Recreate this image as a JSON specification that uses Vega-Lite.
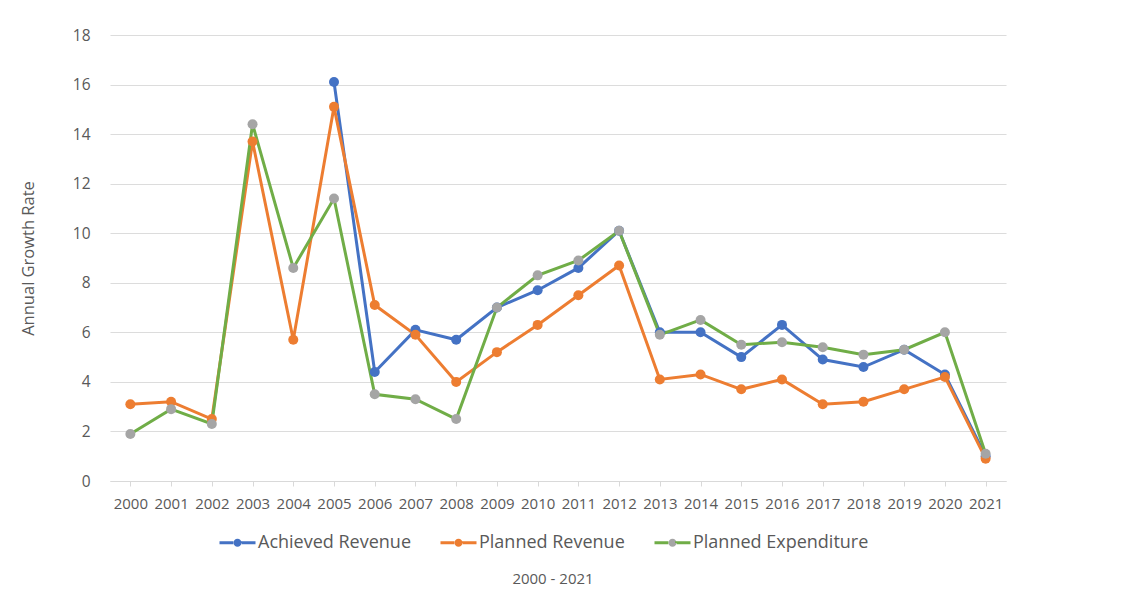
{
  "$schema": "https://vega.github.io/schema/vega-lite/v6.json",
  "width": 896,
  "height": 446,
  "autosize": {"type": "none"},
  "padding": {"left": 110, "top": 35, "right": 122, "bottom": 118},
  "background": "white",
  "config": {"view": {"stroke": null}, "font": "Open Sans"},
  "title": {"text": "2000 - 2021", "orient": "bottom", "anchor": "middle", "fontSize": 15, "fontWeight": "normal", "color": "#595959", "offset": 19, "dx": -5},
  "data": {"values": [
    {"year": "2005", "series": "Achieved Revenue", "value": 16.1},
    {"year": "2006", "series": "Achieved Revenue", "value": 4.4},
    {"year": "2007", "series": "Achieved Revenue", "value": 6.1},
    {"year": "2008", "series": "Achieved Revenue", "value": 5.7},
    {"year": "2009", "series": "Achieved Revenue", "value": 7.0},
    {"year": "2010", "series": "Achieved Revenue", "value": 7.7},
    {"year": "2011", "series": "Achieved Revenue", "value": 8.6},
    {"year": "2012", "series": "Achieved Revenue", "value": 10.1},
    {"year": "2013", "series": "Achieved Revenue", "value": 6.0},
    {"year": "2014", "series": "Achieved Revenue", "value": 6.0},
    {"year": "2015", "series": "Achieved Revenue", "value": 5.0},
    {"year": "2016", "series": "Achieved Revenue", "value": 6.3},
    {"year": "2017", "series": "Achieved Revenue", "value": 4.9},
    {"year": "2018", "series": "Achieved Revenue", "value": 4.6},
    {"year": "2019", "series": "Achieved Revenue", "value": 5.3},
    {"year": "2020", "series": "Achieved Revenue", "value": 4.3},
    {"year": "2021", "series": "Achieved Revenue", "value": 1.0},
    {"year": "2000", "series": "Planned Revenue", "value": 3.1},
    {"year": "2001", "series": "Planned Revenue", "value": 3.2},
    {"year": "2002", "series": "Planned Revenue", "value": 2.5},
    {"year": "2003", "series": "Planned Revenue", "value": 13.7},
    {"year": "2004", "series": "Planned Revenue", "value": 5.7},
    {"year": "2005", "series": "Planned Revenue", "value": 15.1},
    {"year": "2006", "series": "Planned Revenue", "value": 7.1},
    {"year": "2007", "series": "Planned Revenue", "value": 5.9},
    {"year": "2008", "series": "Planned Revenue", "value": 4.0},
    {"year": "2009", "series": "Planned Revenue", "value": 5.2},
    {"year": "2010", "series": "Planned Revenue", "value": 6.3},
    {"year": "2011", "series": "Planned Revenue", "value": 7.5},
    {"year": "2012", "series": "Planned Revenue", "value": 8.7},
    {"year": "2013", "series": "Planned Revenue", "value": 4.1},
    {"year": "2014", "series": "Planned Revenue", "value": 4.3},
    {"year": "2015", "series": "Planned Revenue", "value": 3.7},
    {"year": "2016", "series": "Planned Revenue", "value": 4.1},
    {"year": "2017", "series": "Planned Revenue", "value": 3.1},
    {"year": "2018", "series": "Planned Revenue", "value": 3.2},
    {"year": "2019", "series": "Planned Revenue", "value": 3.7},
    {"year": "2020", "series": "Planned Revenue", "value": 4.2},
    {"year": "2021", "series": "Planned Revenue", "value": 0.9},
    {"year": "2000", "series": "Planned Expenditure", "value": 1.9},
    {"year": "2001", "series": "Planned Expenditure", "value": 2.9},
    {"year": "2002", "series": "Planned Expenditure", "value": 2.3},
    {"year": "2003", "series": "Planned Expenditure", "value": 14.4},
    {"year": "2004", "series": "Planned Expenditure", "value": 8.6},
    {"year": "2005", "series": "Planned Expenditure", "value": 11.4},
    {"year": "2006", "series": "Planned Expenditure", "value": 3.5},
    {"year": "2007", "series": "Planned Expenditure", "value": 3.3},
    {"year": "2008", "series": "Planned Expenditure", "value": 2.5},
    {"year": "2009", "series": "Planned Expenditure", "value": 7.0},
    {"year": "2010", "series": "Planned Expenditure", "value": 8.3},
    {"year": "2011", "series": "Planned Expenditure", "value": 8.9},
    {"year": "2012", "series": "Planned Expenditure", "value": 10.1},
    {"year": "2013", "series": "Planned Expenditure", "value": 5.9},
    {"year": "2014", "series": "Planned Expenditure", "value": 6.5},
    {"year": "2015", "series": "Planned Expenditure", "value": 5.5},
    {"year": "2016", "series": "Planned Expenditure", "value": 5.6},
    {"year": "2017", "series": "Planned Expenditure", "value": 5.4},
    {"year": "2018", "series": "Planned Expenditure", "value": 5.1},
    {"year": "2019", "series": "Planned Expenditure", "value": 5.3},
    {"year": "2020", "series": "Planned Expenditure", "value": 6.0},
    {"year": "2021", "series": "Planned Expenditure", "value": 1.1}
  ]},
  "encoding": {
    "x": {"field": "year", "type": "ordinal", "scale": {"type": "point", "padding": 0.5},
      "axis": {"title": null, "labelAngle": 0, "labelFontSize": 15, "labelColor": "#595959", "labelPadding": 10, "tickSize": 5, "tickColor": "#d9d9d9", "domainColor": "#d9d9d9", "grid": false}},
    "y": {"field": "value", "type": "quantitative", "scale": {"domain": [0, 18]},
      "axis": {"title": "Annual Growth Rate", "titleFontSize": 16.5, "titleFontWeight": "normal", "titleColor": "#595959", "titlePadding": 36,
        "values": [0, 2, 4, 6, 8, 10, 12, 14, 16, 18], "labelFontSize": 15.5, "labelColor": "#595959", "labelPadding": 20, "ticks": false, "tickSize": 0, "domain": false, "gridColor": "#dcdcdc", "gridWidth": 1.2}}
  },
  "layer": [
    {"transform": [{"filter": "datum.series === 'Achieved Revenue'"}],
     "mark": {"type": "line", "strokeWidth": 3},
     "encoding": {"stroke": {"field": "series", "type": "nominal",
       "scale": {"domain": ["Achieved Revenue", "Planned Revenue", "Planned Expenditure"], "range": ["#4472C4", "#ED7D31", "#70AD47"]},
       "legend": {"orient": "none", "legendX": 117, "legendY": 497, "direction": "horizontal", "title": null,
         "symbolType": "M-2,0H-0.45A0.45,0.45,0,0,1,0.45,0H2H0.45A0.45,0.45,0,0,1,-0.45,0Z", "symbolSize": 324, "symbolStrokeWidth": 3,
         "symbolDash": [13.9, 12.8, 27.8, 60], "symbolOpacity": 1,
         "labelFontSize": 18, "labelLimit": 400, "labelColor": "#595959", "labelOffset": 10, "columnPadding": 23}}}},
    {"transform": [{"filter": "datum.series === 'Planned Revenue'"}],
     "mark": {"type": "line", "strokeWidth": 3},
     "encoding": {"stroke": {"field": "series", "type": "nominal"}}},
    {"transform": [{"filter": "datum.series === 'Planned Expenditure'"}],
     "mark": {"type": "line", "strokeWidth": 3},
     "encoding": {"stroke": {"field": "series", "type": "nominal"}}},
    {"mark": {"type": "point", "filled": true, "size": 100, "opacity": 1, "strokeWidth": 0},
     "encoding": {"fill": {"field": "series", "type": "nominal",
       "scale": {"domain": ["Achieved Revenue", "Planned Revenue", "Planned Expenditure"], "range": ["#4472C4", "#ED7D31", "#A5A5A5"]},
       "legend": {"orient": "none", "legendX": 117, "legendY": 497, "direction": "horizontal", "title": null,
         "symbolType": "M-2,0H-0.45A0.45,0.45,0,0,1,0.45,0H2H0.45A0.45,0.45,0,0,1,-0.45,0Z", "symbolSize": 324, "symbolStrokeWidth": 3,
         "symbolDash": [13.9, 12.8, 27.8, 60], "symbolOpacity": 1,
         "labelFontSize": 18, "labelLimit": 400, "labelColor": "#595959", "labelOffset": 10, "columnPadding": 23}}}}
  ]
}
